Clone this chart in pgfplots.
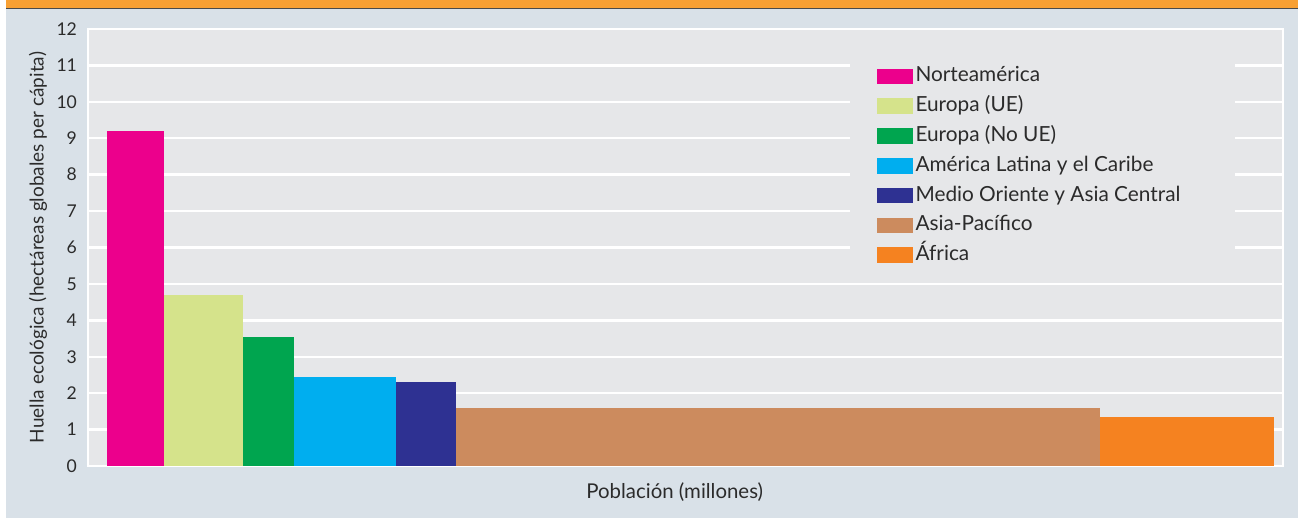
\documentclass[border=0pt]{standalone}
\usepackage{fontspec}
\setmainfont{Lato}
\usepackage{pgfplots}
\pgfplotsset{compat=1.18}

\definecolor{outerbg}{HTML}{D9E1E8}
\definecolor{plotbg}{HTML}{E6E7E9}
\definecolor{band}{HTML}{F8A033}
\definecolor{bandline}{HTML}{4A4A4A}
\definecolor{txt}{HTML}{2B2B2B}
\definecolor{cNA}{HTML}{EC008C}
\definecolor{cUE}{HTML}{D5E38B}
\definecolor{cNoUE}{HTML}{00A54F}
\definecolor{cAL}{HTML}{00AEEF}
\definecolor{cMO}{HTML}{2E3192}
\definecolor{cAP}{HTML}{CC8B5E}
\definecolor{cAF}{HTML}{F58220}

\begin{document}
\begin{tikzpicture}[x=1pt,y=1pt]
\fill[white] (0,0) rectangle (649,259.5);
\useasboundingbox (0,0) rectangle (649,259.5);
\fill[outerbg] (3,0.5) rectangle (649,255);
\fill[bandline] (3,254.75) rectangle (649,255.6);
\fill[band] (3,255.5) rectangle (649,259.5);
\begin{axis}[
    at={(44pt,26.5pt)}, anchor=south west,
    scale only axis, width=597.5pt, height=218.5pt,
    xmin=-104.5, xmax=6469.5, ymin=0, ymax=12,
    ytick={0,1,...,12}, xtick=\empty,
    ymajorgrids,
    grid style={white, line width=1.2pt},
    axis line style={white, line width=1.2pt},
    axis background/.style={fill=plotbg},
    major tick length=0pt,
    /pgf/number format/assume math mode=true,
    yticklabel style={font=\fontsize{8.8}{10}\selectfont, text=txt, xshift=-2pt},
    xlabel={Población (millones)},
    ylabel={Huella ecológica (hectáreas globales per cápita)},
    xlabel style={at={(axis description cs:0.491,-0.0595)}, anchor=center,
        font=\fontsize{10.2}{12}\selectfont, text=txt},
    ylabel style={at={(axis description cs:-0.0418,0.5)}, anchor=center,
        font=\fontsize{9.5}{11}\selectfont, text=txt},
    legend style={at={(axis description cs:0.660,0.9265)}, anchor=north west,
        draw=none, fill=none, inner sep=0pt, row sep=0pt,
        font=\fontsize{10.4}{12}\selectfont, text=txt,
        nodes={text height=7.6pt, text depth=2.2pt, inner ysep=2.55pt, inner xsep=1.2pt}},
    legend cell align=left,
    legend image code/.code={\fill[#1,draw=none] (0pt,-3.9pt) rectangle (18pt,3.9pt);},
]
% legend panel covers the grid lines
\fill[plotbg] (rel axis cs:0.6377,0.4485) rectangle (rel axis cs:0.9598,0.938);

\addplot[ybar interval, fill=cNA, draw=none] coordinates {(0,9.20) (314,9.20)};
\addlegendentry{Norteamérica}
\addplot[ybar interval, fill=cUE, draw=none] coordinates {(314,4.69) (749,4.69)};
\addlegendentry{Europa (UE)}
\addplot[ybar interval, fill=cNoUE, draw=none] coordinates {(749,3.54) (1028,3.54)};
\addlegendentry{Europa (No UE)}
\addplot[ybar interval, fill=cAL, draw=none] coordinates {(1028,2.44) (1591,2.44)};
\addlegendentry{América Latina y el Caribe}
\addplot[ybar interval, fill=cMO, draw=none] coordinates {(1591,2.30) (1921,2.30)};
\addlegendentry{Medio Oriente y Asia Central}
\addplot[ybar interval, fill=cAP, draw=none] coordinates {(1921,1.59) (5461,1.59)};
\addlegendentry{Asia-Pacífico}
\addplot[ybar interval, fill=cAF, draw=none] coordinates {(5461,1.34) (6420,1.34)};
\addlegendentry{África}
\end{axis}
\end{tikzpicture}
\end{document}
